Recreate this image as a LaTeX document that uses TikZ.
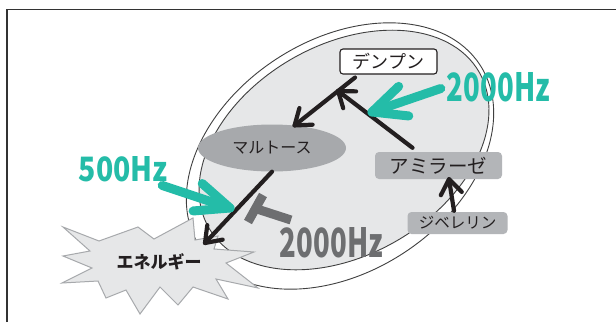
\documentclass[tikz,border=0pt]{standalone}
\usepackage{fontspec}
\usepackage{graphicx}
\setmainfont{Noto Sans CJK JP}
\usetikzlibrary{calc,shapes.geometric}
\definecolor{teal1}{HTML}{24BCA8}
\definecolor{tgray}{HTML}{6D6E70}
\definecolor{lgray}{HTML}{E6E7E8}
\definecolor{mgray}{HTML}{A7A9AC}
\definecolor{bgray}{HTML}{B3B5B8}
\definecolor{ink}{HTML}{231F20}
\newcommand{\barbhead}[5]{\draw[#1] ($(#2)!#4!#5:(#3)$) -- (#2) -- ($(#2)!#4!-#5:(#3)$);}
\begin{document}
\begin{tikzpicture}[x=1pt,y=-1pt,
  frameline/.style={draw=black!80, line width=1.2pt},
  ellline/.style={draw=black!75, line width=0.9pt},
  blk/.style={draw=ink, line width=4.2pt, line cap=round, line join=round},
  tealarrow/.style={draw=teal1, line width=9pt, line cap=round, line join=round},
  inhib/.style={draw=tgray, line width=9pt},
  graybox/.style={fill=bgray, rounded corners=4pt, inner sep=0pt},
  whitebox/.style={draw=ink, line width=1.1pt, fill=white, rounded corners=3pt, inner sep=0pt},
  jtext/.style={text=ink},
  freq/.style={inner sep=0pt}]
\useasboundingbox (0,0) rectangle (616,322);
\fill[white] (0,0) rectangle (616,322);
\draw[frameline] (7,322) -- (7,9.5) -- (616,9.5);
% cell outlines
\draw[ellline, fill=white, rotate around={33:(340,156)}] (340,156) ellipse [x radius=167, y radius=116];
\draw[ellline, fill=lgray, rotate around={30:(344,150)}] (344,150) ellipse [x radius=156, y radius=105];
% nodes
\node[ellipse, fill=mgray, minimum width=148pt, minimum height=47pt, inner sep=0pt, jtext, font=\fontsize{16}{16}\selectfont] (malt) at (272,148) {マルトース};
\node[whitebox, minimum width=97pt, minimum height=25pt, jtext, font=\fontsize{18}{18}\selectfont] (den) at (388.5,61.5) {デンプン\hspace{12pt}};
\node[graybox, minimum width=127pt, minimum height=27pt, jtext, font=\fontsize{19.5}{19.5}\selectfont] (amy) at (438.5,165.5) {アミラーゼ};
\node[graybox, minimum width=100pt, minimum height=22pt, jtext, font=\fontsize{15.5}{15.5}\selectfont] (gib) at (457.5,223) {ジベレリン};
% energy star
\draw[draw=mgray, line width=1pt, fill=lgray, line join=miter]
 (63,227) -- (99,241) -- (138,227) -- (154,239) -- (193,218) -- (195,240) -- (218,236) -- (214,249)
 -- (254,252) -- (226,263) -- (258,288) -- (216,279) -- (228,299) -- (193,287) -- (178,305) -- (160,287)
 -- (140,314) -- (126,290) -- (106,298) -- (98,281) -- (62,283) -- (92,268) -- (63,256) -- (90,251) -- cycle;
\node[jtext, font=\fontsize{17}{17}\selectfont\bfseries] (ene) at (159,262) {エネルギー};
% black arrows
\coordinate (a1s) at ($(den.south)+(-33.5,3)$);
\coordinate (a1e) at (malt.45);
\draw[blk] (a1s) -- (a1e);
\barbhead{blk}{a1e}{a1s}{18pt}{36}
\coordinate (a2e) at ($(a1s)!0.28!(a1e)$);
\coordinate (a2s) at ($(amy.north)+(-26,-4)$);
\draw[blk] (a2s) -- (a2e);
\barbhead{blk}{a2e}{a2s}{18pt}{36}
\coordinate (a3s) at (malt.south);
\coordinate (a3e) at ($(ene.center)+(46,-19)$);
\draw[blk] (a3s) -- (a3e);
\barbhead{blk}{a3e}{a3s}{18pt}{36}
\coordinate (a4s) at ($(gib.north)+(-3.5,-1)$);
\coordinate (a4e) at ($(amy.south)+(10.5,0)$);
\draw[blk] (a4s) -- (a4e);
\barbhead{blk}{a4e}{a4s}{18pt}{36}
% frequency labels
\node[freq, text=teal1] (t1) at (498.5,87.5) {\resizebox{103pt}{29pt}{\bfseries 2000Hz}};
\node[freq, text=teal1] (t2) at (123.5,169.5) {\resizebox{89pt}{25pt}{\bfseries 500Hz}};
\node[freq, text=tgray] (t3) at (331.5,243) {\resizebox{103pt}{30pt}{\bfseries 2000Hz}};
% teal arrows
\coordinate (b1s) at ($(t1.west)+(-6,1)$);
\coordinate (b1e) at (372,112);
\draw[tealarrow] (b1s) -- (b1e);
\barbhead{tealarrow}{b1e}{b1s}{37pt}{25}
\coordinate (b2s) at ($(t2.south east)+(-6,3)$);
\coordinate (b2e) at (230,208);
\draw[tealarrow] (b2s) -- (b2e);
\barbhead{tealarrow}{b2e}{b2s}{37pt}{23}
% inhibition
\draw[inhib] (263,195) -- (248,222);
\draw[inhib] (255.5,208.5) -- (291,220);
\end{tikzpicture}
\end{document}
